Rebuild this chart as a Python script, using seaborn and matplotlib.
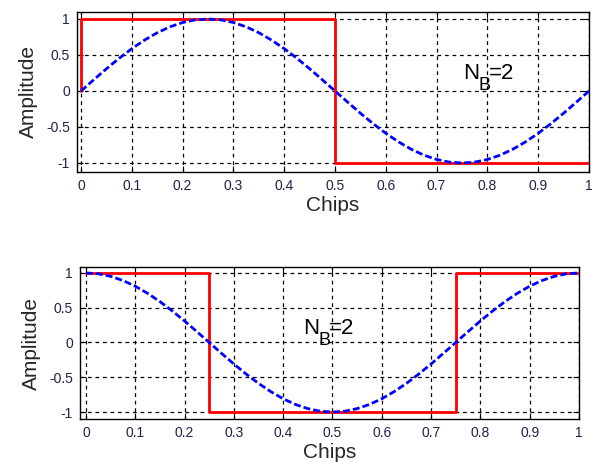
import matplotlib
matplotlib.use("Agg")
import matplotlib.pyplot as plt
import seaborn as sns
import pandas as pd

sns.set_style("white")
plt.rcParams["font.family"] = ["Liberation Sans", "DejaVu Sans"]

# Sampled chip positions for the smooth pulse shapes
chips = [0.000, 0.025, 0.050, 0.075, 0.100, 0.125, 0.150, 0.175, 0.200, 0.225,
         0.250, 0.275, 0.300, 0.325, 0.350, 0.375, 0.400, 0.425, 0.450, 0.475,
         0.500, 0.525, 0.550, 0.575, 0.600, 0.625, 0.650, 0.675, 0.700, 0.725,
         0.750, 0.775, 0.800, 0.825, 0.850, 0.875, 0.900, 0.925, 0.950, 0.975,
         1.000]

# Upper panel: sine-shaped pulse and its hard-limited version
sine_amp = [0.000, 0.156, 0.309, 0.454, 0.588, 0.707, 0.809, 0.891, 0.951, 0.988,
            1.000, 0.988, 0.951, 0.891, 0.809, 0.707, 0.588, 0.454, 0.309, 0.156,
            0.000, -0.156, -0.309, -0.454, -0.588, -0.707, -0.809, -0.891, -0.951, -0.988,
            -1.000, -0.988, -0.951, -0.891, -0.809, -0.707, -0.588, -0.454, -0.309, -0.156,
            0.000]
square_top_x = [0.0, 0.0, 0.5, 0.5, 1.0]
square_top_y = [0.0, 1.0, 1.0, -1.0, -1.0]

# Lower panel: cosine-shaped pulse and its hard-limited version
cos_amp = [1.000, 0.988, 0.951, 0.891, 0.809, 0.707, 0.588, 0.454, 0.309, 0.156,
           0.000, -0.156, -0.309, -0.454, -0.588, -0.707, -0.809, -0.891, -0.951, -0.988,
           -1.000, -0.988, -0.951, -0.891, -0.809, -0.707, -0.588, -0.454, -0.309, -0.156,
           0.000, 0.156, 0.309, 0.454, 0.588, 0.707, 0.809, 0.891, 0.951, 0.988,
           1.000]
square_bot_x = [0.0, 0.25, 0.25, 0.75, 0.75, 1.0]
square_bot_y = [1.0, 1.0, -1.0, -1.0, 1.0, 1.0]

x_ticks = [0, 0.1, 0.2, 0.3, 0.4, 0.5, 0.6, 0.7, 0.8, 0.9, 1]
x_tick_labels = ["0", "0.1", "0.2", "0.3", "0.4", "0.5", "0.6", "0.7", "0.8", "0.9", "1"]
y_ticks = [-1, -0.5, 0, 0.5, 1]
y_tick_labels = ["-1", "-0.5", "0", "0.5", "1"]

fig = plt.figure(figsize=(5.96, 4.63), dpi=100)
W, H = 596, 463
ax1 = fig.add_axes([77 / W, 1 - 172 / H, (589 - 77) / W, (172 - 12) / H])
ax2 = fig.add_axes([80 / W, 1 - 419 / H, (579 - 80) / W, (419 - 267) / H])

tick_color = "#22224a"

panels = [
    (ax1, sine_amp, square_top_x, square_top_y, (-0.008, 1.0), (-1.125, 1.097), (0.752, 0.16)),
    (ax2, cos_amp, square_bot_x, square_bot_y, (-0.012, 1.0), (-1.1, 1.085), (0.44, 0.12)),
]


def nb_label(ax, pos):
    """Write N with a dropped subscript B followed by =2."""
    ax.annotate("N", xy=pos, xycoords="data", fontsize=16, color="black")
    ax.annotate("B", xy=pos, xycoords="data", xytext=(11.0, -7.5),
                textcoords="offset points", fontsize=13, color="black")
    ax.annotate("=2", xy=pos, xycoords="data", xytext=(18.5, 0),
                textcoords="offset points", fontsize=16, color="black")


for ax, smooth, sq_x, sq_y, xlim, ylim, nb_pos in panels:
    smooth_df = pd.DataFrame({"Chips": chips, "Amplitude": smooth})
    square_df = pd.DataFrame({"Chips": sq_x, "Amplitude": sq_y})
    sns.lineplot(data=square_df, x="Chips", y="Amplitude", ax=ax, sort=False,
                 estimator=None, color="#ff0000", linewidth=2.0, zorder=3)
    sns.lineplot(data=smooth_df, x="Chips", y="Amplitude", ax=ax, sort=False,
                 estimator=None, color="#0000ff", linewidth=2.0,
                 linestyle=(0, (2.5, 1.1)), zorder=4)
    ax.set_xlim(*xlim)
    ax.set_ylim(*ylim)
    ax.set_xticks(x_ticks)
    ax.set_xticklabels(x_tick_labels)
    ax.set_yticks(y_ticks)
    ax.set_yticklabels(y_tick_labels)
    ax.grid(True, color="black", linestyle=(0, (3, 3)), linewidth=0.9)
    ax.set_axisbelow(True)
    ax.tick_params(direction="in", length=4, width=0.8, labelsize=10,
                   labelcolor=tick_color, color="black", top=True, right=True,
                   bottom=True, left=True, pad=5)
    for spine in ax.spines.values():
        spine.set_visible(True)
        spine.set_color("black")
        spine.set_linewidth(1.0)
    ax.set_xlabel("Chips", fontsize=15, labelpad=2)
    ax.set_ylabel("Amplitude", fontsize=15, labelpad=6)
    nb_label(ax, nb_pos)

fig.savefig("out.png", dpi=100)
